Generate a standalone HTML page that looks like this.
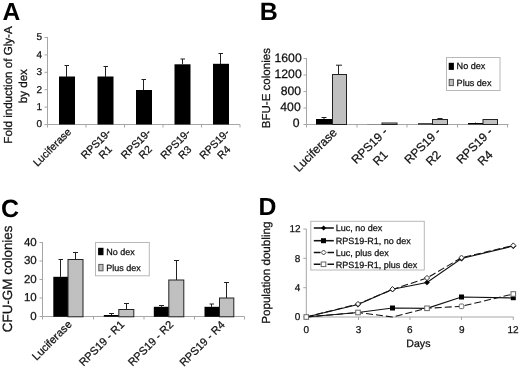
<!DOCTYPE html>
<html>
<head>
<meta charset="utf-8">
<title>Figure</title>
<style>
  html, body { margin: 0; padding: 0; background: #fff; }
  body { width: 520px; height: 368px; overflow: hidden; font-family: "Liberation Sans", sans-serif; }
  svg { display: block; filter: grayscale(1); }
  text { font-family: "Liberation Sans", sans-serif; fill: #111; text-rendering: geometricPrecision; stroke: #111; stroke-width: 0.25px; }
  .pl { font-weight: bold; fill: #000; stroke: none; }
  .ax { stroke: #a6a6a6; stroke-width: 1; fill: none; }
  .eb { stroke: #222; stroke-width: 1; fill: none; }
  .bk { fill: #000; }
  .gy { fill: #c0c0c0; stroke: #222; stroke-width: 1; }
  .lg { fill: #fff; stroke: #b8b8b8; stroke-width: 1; }
</style>
</head>
<body>
<svg width="520" height="368" viewBox="0 0 520 368">
<rect x="0" y="0" width="520" height="368" fill="#ffffff"/>

<!-- ================= PANEL A ================= -->
<g id="panelA">
  <text class="pl" x="2.500" y="19.800" font-size="24.600">A</text>
  <!-- y-axis title -->
  <text font-size="11.6" text-anchor="middle" transform="translate(12.1,85) rotate(-90)">Fold induction of Gly-A</text>
  <text font-size="11.6" text-anchor="middle" transform="translate(27.1,86.2) rotate(-90)">by dex</text>
  <!-- axes -->
  <path class="ax" d="M47.5 37 V124.5 M47.5 124.5 H240"/>
  <path class="ax" d="M44.5 37.5 H47.5 M44.5 54.9 H47.5 M44.5 72.3 H47.5 M44.5 89.7 H47.5 M44.5 107.1 H47.5 M44.5 124.5 H47.5"/>
  <path class="ax" d="M47.5 124.5 V127.5 M86 124.5 V127.5 M124.5 124.5 V127.5 M163 124.5 V127.5 M201.5 124.5 V127.5 M240 124.5 V127.5"/>
  <!-- y tick labels -->
  <g font-size="10" text-anchor="end">
    <text x="42" y="40.40">5</text>
    <text x="42" y="57.80">4</text>
    <text x="42" y="75.20">3</text>
    <text x="42" y="92.60">2</text>
    <text x="42" y="110.00">1</text>
    <text x="42" y="127.40">0</text>
  </g>
  <!-- bars -->
  <rect class="bk" x="59" y="76.500" width="16" height="48"/>
  <rect class="bk" x="97.500" y="76.500" width="16" height="48"/>
  <rect class="bk" x="136" y="90" width="16" height="34.500"/>
  <rect class="bk" x="174.500" y="64.300" width="16" height="60.200"/>
  <rect class="bk" x="213" y="63.800" width="16" height="60.700"/>
  <!-- error bars -->
  <path class="eb" d="M66.500 77 V65.500 M64.500 65.500 H69"/>
  <path class="eb" d="M105.500 77 V66.500 M103.500 66.500 H108"/>
  <path class="eb" d="M143.500 90 V79.500 M141.500 79.500 H146"/>
  <path class="eb" d="M182.500 64.500 V59 M180.500 59 H185"/>
  <path class="eb" d="M220.500 64 V53.500 M218.500 53.500 H223"/>
  <!-- x labels -->
  <g font-size="10.6" text-anchor="end">
    <text transform="translate(72,132.500) rotate(-45)">Luciferase</text>
    <text transform="translate(111.500,133.300) rotate(-45)">RPS19-</text>
    <text transform="translate(111.500,133.300) rotate(-45)" x="-11" y="12.500">R1</text>
    <text transform="translate(151.500,133.300) rotate(-45)">RPS19-</text>
    <text transform="translate(151.500,133.300) rotate(-45)" x="-11" y="12.500">R2</text>
    <text transform="translate(191,133.500) rotate(-45)">RPS19-</text>
    <text transform="translate(191,133.500) rotate(-45)" x="-11" y="12.500">R3</text>
    <text transform="translate(230,133.500) rotate(-45)">RPS19-</text>
    <text transform="translate(230,133.500) rotate(-45)" x="-11" y="12.500">R4</text>
  </g>
</g>

<!-- ================= PANEL B ================= -->
<g id="panelB">
  <text class="pl" x="259.700" y="19.800" font-size="25">B</text>
  <text font-size="11.550" text-anchor="middle" transform="translate(269.500,88.200) rotate(-90)">BFU-E colonies</text>
  <path class="ax" d="M306.5 58 V124.5 M306.5 124.5 H508.5"/>
  <path class="ax" d="M303.5 58.500 H306.5 M303.5 75 H306.5 M303.5 91.5 H306.5 M303.5 108 H306.5 M303.5 124.5 H306.5"/>
  <path class="ax" d="M306.5 124.5 V127.5 M357 124.5 V127.5 M407 124.5 V127.5 M457.500 124.5 V127.5 M507.5 124.5 V127.5"/>
  <g font-size="12.200" text-anchor="end">
    <text x="301.700" y="61.500">1600</text>
    <text x="301.700" y="78">1200</text>
    <text x="301.100" y="94.500">800</text>
    <text x="300.700" y="110.900">400</text>
    <text x="299.600" y="127.300">0</text>
  </g>
  <!-- group 1 -->
  <rect class="bk" x="316" y="119" width="16.5" height="5.5"/>
  <path class="eb" d="M324 119 V117.500 M321.500 117.500 H326.5"/>
  <rect class="gy" x="332.500" y="74.500" width="14" height="50"/>
  <path class="eb" d="M338.500 74.500 V65.200 M336 65.200 H342"/>
  <!-- group 2 -->
  <rect class="bk" x="367" y="124" width="15" height="0.500" opacity="0.3"/>
  <rect class="gy" x="382" y="123" width="15" height="1.5"/>
  <!-- group 3 -->
  <rect class="bk" x="418" y="123.3" width="14.500" height="1.200"/>
  <rect class="gy" x="432.500" y="119.5" width="15" height="5"/>
  <path class="eb" d="M440 119.500 V118.500 M437.500 118.500 H442.5"/>
  <!-- group 4 -->
  <rect class="bk" x="468" y="123" width="15" height="1.500"/>
  <path class="eb" d="M475.500 123 V122.300" opacity="0.6"/>
  <rect class="gy" x="483" y="119.5" width="14.500" height="5"/>
  <!-- legend -->
  <rect class="lg" x="446.500" y="57.5" width="53.500" height="33"/>
  <rect class="bk" x="448.700" y="62.800" width="5.200" height="7.100"/>
  <rect class="gy" x="449.200" y="79.400" width="4.200" height="6.200" style="stroke:#555"/>
  <text font-size="9.100" x="456.600" y="69.400">No dex</text>
  <text font-size="9.100" x="456.600" y="86.300">Plus dex</text>
  <!-- x labels -->
  <g font-size="12" text-anchor="end">
    <text transform="translate(337.800,133.300) rotate(-45)">Luciferase</text>
    <text transform="translate(388.400,132.500) rotate(-45)">RPS19 -</text>
    <text transform="translate(388.400,132.500) rotate(-45)" x="-16.200" y="16.300">R1</text>
    <text transform="translate(441.400,132.500) rotate(-45)">RPS19 -</text>
    <text transform="translate(441.400,132.500) rotate(-45)" x="-16.200" y="16.300">R2</text>
    <text transform="translate(493.300,132.500) rotate(-45)">RPS19 -</text>
    <text transform="translate(493.300,132.500) rotate(-45)" x="-16.200" y="16.300">R4</text>
  </g>
</g>

<!-- ================= PANEL C ================= -->
<g id="panelC">
  <text class="pl" x="1" y="216.900" font-size="25">C</text>
  <text font-size="13.450" text-anchor="middle" transform="translate(11.700,278.850) rotate(-90)">CFU-GM colonies</text>
  <path class="ax" d="M42.500 242 V316.500 M42.500 316.500 H244.500"/>
  <path class="ax" d="M39.500 242.500 H42.500 M39.500 261 H42.500 M39.500 279.500 H42.500 M39.500 298 H42.500 M39.500 316.500 H42.500"/>
  <path class="ax" d="M42.500 316.500 V319.500 M93.500 316.500 V319.500 M144 316.500 V319.500 M194.500 316.500 V319.500 M244.500 316.500 V319.500"/>
  <g font-size="11.500" text-anchor="end">
    <text x="36.700" y="245.80">40</text>
    <text x="36.700" y="264.30">30</text>
    <text x="36.700" y="282.80">20</text>
    <text x="36.700" y="301.20">10</text>
    <text x="36.700" y="319.60">0</text>
  </g>
  <!-- group 1 -->
  <rect class="bk" x="53.300" y="276.800" width="14.700" height="40"/>
  <path class="eb" d="M60.500 276.800 V259.500 M58.500 259.500 H63"/>
  <rect class="gy" x="68" y="259.500" width="15" height="57.300"/>
  <path class="eb" d="M75.500 259.500 V252.500 M73 252.500 H78"/>
  <!-- group 2 -->
  <rect class="bk" x="103.800" y="315" width="15" height="1.800"/>
  <path class="eb" d="M111.500 315 V313.500 M109 313.500 H114"/>
  <rect class="gy" x="118.800" y="309.500" width="15" height="7.300"/>
  <path class="eb" d="M126.500 309.500 V303.500 M124 303.500 H129"/>
  <!-- group 3 -->
  <rect class="bk" x="153.800" y="306.800" width="15" height="10"/>
  <path class="eb" d="M161.500 306.800 V305.500 M159 305.500 H164"/>
  <rect class="gy" x="168.800" y="280" width="15" height="36.800"/>
  <path class="eb" d="M176.500 280 V260.500 M174 260.500 H179"/>
  <!-- group 4 -->
  <rect class="bk" x="204.500" y="306.800" width="15" height="10"/>
  <path class="eb" d="M211.500 306.800 V304 M209.500 304 H214"/>
  <rect class="gy" x="219.500" y="298" width="14.300" height="18.800"/>
  <path class="eb" d="M226.500 298 V282.500 M224 282.500 H229"/>
  <!-- legend -->
  <rect class="lg" x="95.500" y="242.500" width="53.800" height="33.300"/>
  <rect class="bk" x="98.100" y="247.800" width="5.400" height="7.400"/>
  <rect class="gy" x="98.800" y="264.400" width="4.200" height="6.400" style="stroke:#555"/>
  <text font-size="9" x="106.300" y="255">No dex</text>
  <text font-size="9" x="106.300" y="271.300">Plus dex</text>
  <!-- x labels -->
  <g font-size="11" text-anchor="end">
    <text transform="translate(72.500,325) rotate(-45)">Luciferase</text>
    <text transform="translate(125,325.250) rotate(-45)">RPS19 - R1</text>
    <text transform="translate(174,325.250) rotate(-45)">RPS19 - R2</text>
    <text transform="translate(225.500,325.500) rotate(-45)">RPS19 - R4</text>
  </g>
</g>

<!-- ================= PANEL D ================= -->
<g id="panelD">
  <text class="pl" x="258.500" y="215.200" font-size="24.800">D</text>
  <text font-size="11.650" text-anchor="middle" transform="translate(269.900,272.700) rotate(-90)">Population doubling</text>
  <path class="ax" d="M306.300 229 V317 M306.300 317 H513.600"/>
  <path class="ax" d="M303.300 229 H306.300 M303.300 258.300 H306.300 M303.300 287.700 H306.300 M303.300 317 H306.300"/>
  <path class="ax" d="M306.300 317 V320 M358.500 317 V320 M410 317 V320 M461.500 317 V320 M513.300 317 V320"/>
  <g font-size="10" text-anchor="end">
    <text x="300.600" y="231.800">12</text>
    <text x="300.300" y="261.60">8</text>
    <text x="300.300" y="290.90">4</text>
    <text x="300.300" y="320.30">0</text>
  </g>
  <g font-size="10" text-anchor="middle">
    <text x="306.400" y="333">0</text>
    <text x="358.500" y="333">3</text>
    <text x="409.800" y="333">6</text>
    <text x="461.800" y="333">9</text>
    <text x="513" y="333">12</text>
    <text x="418.400" y="347" font-size="10.600">Days</text>
  </g>

  <!-- series: Luc plus dex (dashed, open diamond) -->
  <polyline fill="none" stroke="#111" stroke-width="1.050" stroke-dasharray="7 3" points="306.300,317 358,304 392.500,289.500 427,278 461.500,257.700 513.300,245.500"/>
  <!-- series: Luc no dex (solid, filled diamond) -->
  <polyline fill="none" stroke="#111" stroke-width="1.150" points="306.300,317 358,304.500 392.500,289.200 427,282.500 461.500,258.500 513.300,246"/>
  <!-- series: RPS19-R1 plus dex (dashed, open square) -->
  <polyline fill="none" stroke="#111" stroke-width="1.050" stroke-dasharray="7 3" points="306.300,317 358,312.500 392.500,317 427,308.300 461.500,306.300 513.300,294"/>
  <!-- series: RPS19-R1 no dex (solid, filled square) -->
  <polyline fill="none" stroke="#111" stroke-width="1.150" points="306.300,317 358,312.500 392.500,308 427,308.300 461.500,297 513.300,298"/>

  <!-- markers -->
  <g fill="#000" stroke="#000" stroke-width="0.500">
    <path d="M358 302 l2.600 2.600 l-2.600 2.600 l-2.600 -2.600 z"/>
    <path d="M392.500 286.800 l2.600 2.600 l-2.600 2.600 l-2.600 -2.600 z"/>
    <path d="M427 279.900 l2.600 2.600 l-2.600 2.600 l-2.600 -2.600 z"/>
    <path d="M461.500 256.100 l2.600 2.600 l-2.600 2.600 l-2.600 -2.600 z"/>
    <path d="M513.300 243.600 l2.600 2.600 l-2.600 2.600 l-2.600 -2.600 z"/>
    <rect x="390" y="305.500" width="5" height="5" stroke="none"/>
    <rect x="459" y="294.500" width="5" height="5" stroke="none"/>
    <rect x="510.800" y="296.200" width="5" height="4" stroke="none"/>
  </g>
  <g fill="#fff" stroke="#1a1a1a" stroke-width="0.900">
    <path d="M358 301.400 l2.600 2.600 l-2.600 2.600 l-2.600 -2.600 z"/>
    <path d="M392.500 286.600 l2.600 2.600 l-2.600 2.600 l-2.600 -2.600 z"/>
    <path d="M427 275.400 l2.600 2.600 l-2.600 2.600 l-2.600 -2.600 z"/>
    <path d="M461.500 255.100 l2.600 2.600 l-2.600 2.600 l-2.600 -2.600 z"/>
    <path d="M513.300 242.900 l2.600 2.600 l-2.600 2.600 l-2.600 -2.600 z"/>
  </g>
  <g fill="#fff" stroke="#666" stroke-width="1">
    <rect x="304" y="314.700" width="4.600" height="4.600"/>
    <rect x="355.700" y="310.200" width="4.600" height="4.600"/>
    <rect x="424.700" y="306" width="4.600" height="4.600"/>
    <rect x="459.200" y="304" width="4.600" height="4.600" rx="1.200"/>
    <rect x="511" y="291.700" width="4.600" height="4.600"/>
  </g>

  <!-- legend -->
  <rect class="lg" x="310.800" y="221.300" width="113.500" height="48.700"/>
  <g stroke="#111" stroke-width="1.550" fill="none">
    <path d="M313.800 228 H333.800"/>
    <path d="M313.800 240.700 H333.800"/>
    <path d="M313.800 252.500 H320.500 M327.500 252.500 H334"/>
    <path d="M313.800 264.300 H320.500 M327.500 264.300 H334"/>
  </g>
  <path d="M323.600 225.400 l2.600 2.600 l-2.600 2.600 l-2.600 -2.600 z" fill="#000"/>
  <rect x="321" y="238.200" width="5" height="5" fill="#000"/>
  <path d="M323.600 250 l2.500 2.500 l-2.500 2.500 l-2.500 -2.500 z" fill="#fff" stroke="#222" stroke-width="0.900"/>
  <rect x="321.200" y="262" width="4.600" height="4.600" fill="#fff" stroke="#666" stroke-width="1"/>
  <g font-size="9">
    <text x="335.800" y="231.200">Luc, no dex</text>
    <text x="335.800" y="243.800">RPS19-R1, no dex</text>
    <text x="335.800" y="255.700">Luc, plus dex</text>
    <text x="335.800" y="267.500">RPS19-R1, plus dex</text>
  </g>
</g>
</svg>
</body>
</html>
